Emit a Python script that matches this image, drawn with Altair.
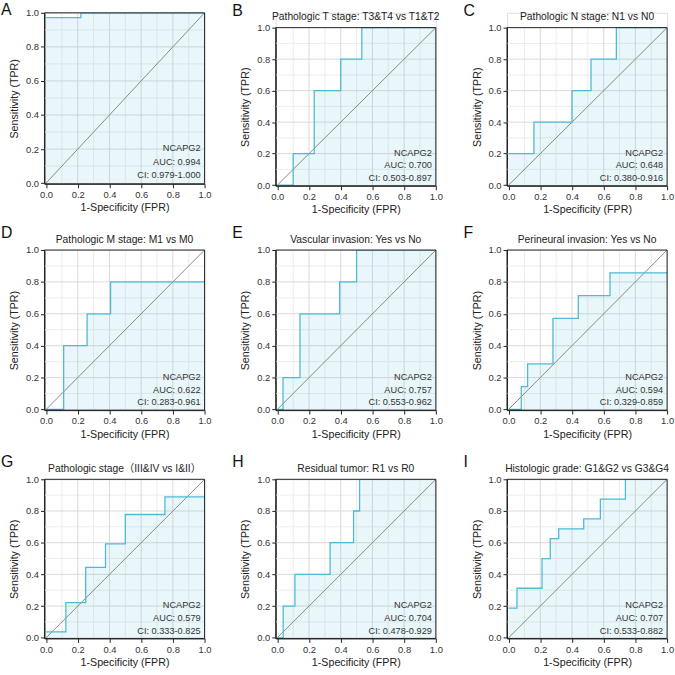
import altair as alt
import pandas as pd

letters = ["A", "B", "C", "D", "E", "F", "G", "H", "I"]
titles = ["",
          "Pathologic T stage: T3&T4 vs T1&T2",
          "Pathologic N stage: N1 vs N0",
          "Pathologic M stage: M1 vs M0",
          "Vascular invasion: Yes vs No",
          "Perineural invasion: Yes vs No",
          "Pathologic stage（III&IV vs I&II）",
          "Residual tumor: R1 vs R0",
          "Histologic grade: G1&G2 vs G3&G4"]

fpr_A = [0.0, 0.22, 1.0]
tpr_A = [0.972, 1.0, 1.0]
fpr_B = [0.0, 0.1, 0.233, 0.4, 0.533, 1.0]
tpr_B = [0.0, 0.2, 0.6, 0.8, 1.0, 1.0]
fpr_C = [0.0, 0.16, 0.4, 0.52, 0.68, 1.0]
tpr_C = [0.2, 0.4, 0.6, 0.8, 1.0, 1.0]
fpr_D = [0.0, 0.111, 0.259, 0.407, 1.0]
tpr_D = [0.0, 0.4, 0.6, 0.8, 0.8]
fpr_E = [0.0, 0.036, 0.143, 0.393, 0.5, 1.0]
tpr_E = [0.0, 0.2, 0.6, 0.8, 1.0, 1.0]
fpr_F = [0.0, 0.08, 0.12, 0.28, 0.44, 0.64, 1.0]
tpr_F = [0.0, 0.143, 0.286, 0.571, 0.714, 0.857, 0.857]
fpr_G = [0.0, 0.125, 0.25, 0.375, 0.5, 0.75, 1.0]
tpr_G = [0.037, 0.222, 0.444, 0.593, 0.778, 0.889, 0.889]
fpr_H = [0.0, 0.037, 0.111, 0.333, 0.481, 0.519, 1.0]
tpr_H = [0.0, 0.2, 0.4, 0.6, 0.8, 1.0, 1.0]
fpr_I = [0.0, 0.053, 0.211, 0.263, 0.316, 0.474, 0.579, 0.737, 1.0]
tpr_I = [0.1875, 0.3125, 0.5, 0.625, 0.6875, 0.75, 0.875, 1.0, 1.0]

fprs = [fpr_A, fpr_B, fpr_C, fpr_D, fpr_E, fpr_F, fpr_G, fpr_H, fpr_I]
tprs = [tpr_A, tpr_B, tpr_C, tpr_D, tpr_E, tpr_F, tpr_G, tpr_H, tpr_I]
aucs = ["0.994", "0.700", "0.648", "0.622", "0.757", "0.594", "0.579", "0.704", "0.707"]
cis = ["0.979-1.000", "0.503-0.897", "0.380-0.916", "0.283-0.961", "0.553-0.962",
       "0.329-0.859", "0.333-0.825", "0.478-0.929", "0.533-0.882"]
gene = "NCAPG2"
tick_vals = [0.0, 0.2, 0.4, 0.6, 0.8, 1.0]
grid_major = [0.2, 0.4, 0.6, 0.8]
grid_minor = [0.1, 0.3, 0.5, 0.7, 0.9]

LINE = "#4DBBD5"
FONT = "Liberation Sans, Noto Sans CJK SC"
W = 162
X0, X1 = -0.01, 1.0
Y0, Y1 = -0.004, 1.0

XS = alt.Scale(domain=[X0, X1], nice=False, zero=False)
AX = dict(values=tick_vals, tickCount=20, format=".1f", grid=False, labelOverlap=False,
          domainColor="#222", tickColor="#222", tickSize=4, labelColor="#333",
          labelFontSize=9.5, titleFontSize=10.8, titleFontWeight="normal", titleColor="#222",
          labelPadding=2, labelFont=FONT, titleFont=FONT)
XAXIS = alt.Axis(title="1-Specificity (FPR)", titlePadding=3, labelFlush=False, **AX)
YAXIS = alt.Axis(title="Sensitivity (TPR)", titlePadding=6, **AX)


def panel(i, h, top=0):
    # top: pixel offset of the plot frame inside the view (used in row 1)
    if top:
        ys = alt.Scale(domain=[Y0, Y1], nice=False, zero=False, range=[h, top])
    else:
        ys = alt.Scale(domain=[Y0, Y1], nice=False, zero=False)

    def X(f):
        return alt.X(f, type="quantitative", scale=XS, axis=XAXIS)

    def Y(f):
        return alt.Y(f, type="quantitative", scale=ys, axis=YAXIS)

    df = pd.DataFrame({"fpr": fprs[i], "tpr": tprs[i]})
    gmaj = pd.DataFrame({"g": grid_major})
    gmin = pd.DataFrame({"g": grid_minor})
    one = pd.DataFrame({"a": [0]})

    vmin = alt.Chart(gmin).mark_rule(color="#ececec", strokeWidth=1).encode(
        x=X("g"), y=alt.datum(Y0), y2=alt.datum(Y1))
    hmin = alt.Chart(gmin).mark_rule(color="#ececec", strokeWidth=1).encode(
        y=Y("g"), x=alt.datum(X0), x2=alt.datum(X1))
    vmaj = alt.Chart(gmaj).mark_rule(color="#dadada", strokeWidth=1).encode(
        x=X("g"), y=alt.datum(Y0), y2=alt.datum(Y1))
    hmaj = alt.Chart(gmaj).mark_rule(color="#dadada", strokeWidth=1).encode(
        y=Y("g"), x=alt.datum(X0), x2=alt.datum(X1))

    area = alt.Chart(df).mark_area(interpolate="step-after", color=LINE, opacity=0.12, clip=True).encode(
        x=X("fpr"), y=Y("tpr"))
    diag = alt.Chart(one).mark_rule(color="#888888", strokeWidth=1).encode(
        x=alt.datum(0.0), y=alt.datum(0.0), x2=alt.datum(1.0), y2=alt.datum(1.0))
    line = alt.Chart(df).mark_line(interpolate="step-after", color=LINE, strokeWidth=1.3, clip=True).encode(
        x=X("fpr"), y=Y("tpr"))
    frame = alt.Chart(one).mark_rect(fillOpacity=0, stroke="#222", strokeWidth=1).encode(
        x=alt.datum(X0), x2=alt.datum(X1), y=alt.datum(Y0), y2=alt.datum(Y1))

    txt = pd.DataFrame({"t": [gene, "AUC: " + aucs[i], "CI: " + cis[i]],
                        "yy": [0.205, 0.125, 0.045]})
    texts = alt.Chart(txt).mark_text(align="right", baseline="middle", fontSize=9.3,
                                     color="#333", font=FONT).encode(
        x=alt.datum(0.975), y=Y("yy"), text="t:N")

    hdr = pd.DataFrame({"l": [letters[i]], "t": [titles[i]]})
    letter = alt.Chart(hdr).mark_text(
        align="left", baseline="alphabetic", fontSize=16, color="#111", font=FONT).encode(
        x=alt.value(-44), y=alt.value(2.5 if i == 0 else top - 12), text="l:N")
    layers = [vmin, hmin, vmaj, hmaj, area, diag, line, frame, texts, letter]
    if titles[i]:
        ttl = alt.Chart(hdr).mark_text(
            align="center", baseline="middle", fontSize=10.4, color="#222", font=FONT).encode(
            x=alt.value(W / 2), y=alt.value(top - 10.5), text="t:N")
        layers.append(ttl)
    return alt.layer(*layers).properties(width=W, height=h)


SP = 19
row1 = alt.hconcat(panel(0, 173), panel(1, 175, top=15), panel(2, 175, top=15), spacing=SP)
row2 = alt.hconcat(panel(3, 162), panel(4, 162), panel(5, 162), spacing=SP)
row3 = alt.hconcat(panel(6, 161), panel(7, 161), panel(8, 161), spacing=SP)

chart = alt.vconcat(alt.vconcat(row1, row2, spacing=9), row3, spacing=14).properties(
    padding={"left": 0, "top": -2, "right": 0, "bottom": 0}
).configure_view(stroke="transparent").configure(font=FONT)

chart.save("out.html", embed_options={"renderer": "svg", "actions": False})
